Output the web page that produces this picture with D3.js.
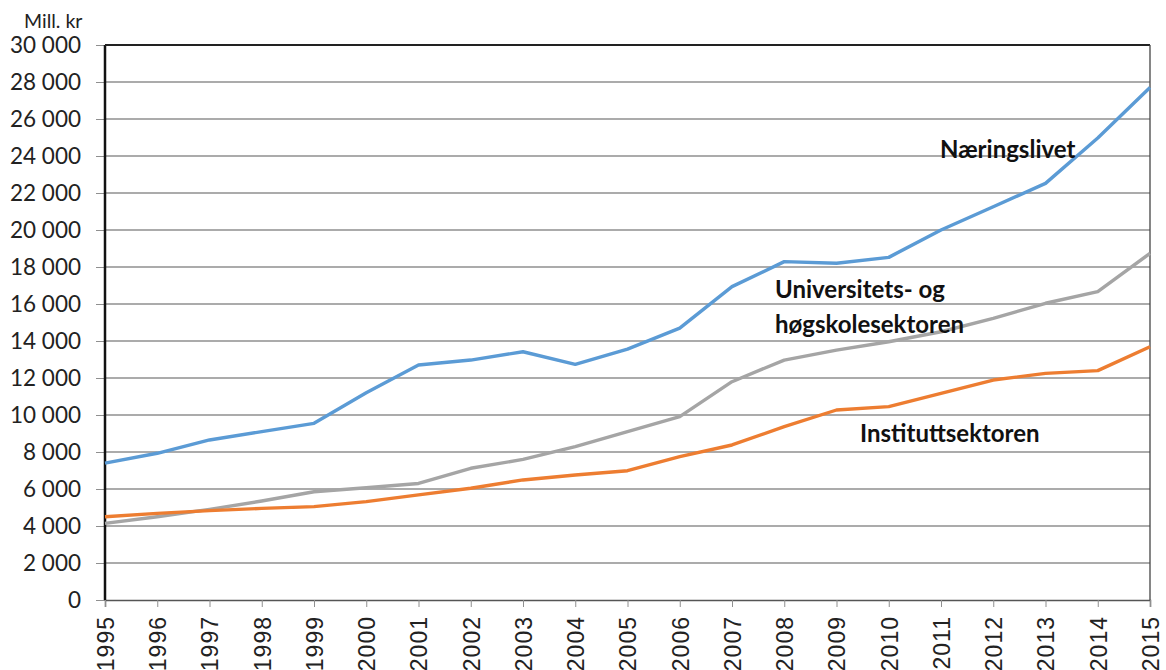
<!DOCTYPE html>
<html>
<head>
<meta charset="utf-8">
<script src="https://cdn.jsdelivr.net/npm/d3@7"></script>
<style>
  body { margin: 0; background: #fff; }
  svg { display: block; }
</style>
</head>
<body>
<svg></svg>
<script>
const width = 1166,
    height = 670;

// data (mill. kr)
const years = [1995, 1996, 1997, 1998, 1999, 2000, 2001, 2002, 2003, 2004, 2005,
    2006, 2007, 2008, 2009, 2010, 2011, 2012, 2013, 2014, 2015];
const naeringslivet = [7400, 7930, 8650, 9100, 9550, 11200, 12700, 12970, 13420, 12740, 13560,
    14700, 16940, 18290, 18200, 18520, 20000, 21260, 22520, 24970, 27700];
const universitet = [4140, 4500, 4900, 5350, 5850, 6070, 6300, 7120, 7600, 8290, 9100,
    9910, 11800, 12970, 13510, 13960, 14500, 15220, 16040, 16670, 18740];
const institutt = [4500, 4680, 4830, 4950, 5050, 5320, 5680, 6040, 6490, 6760, 6990,
    7750, 8380, 9370, 10270, 10450, 11170, 11890, 12250, 12400, 13690];
const yTicks = [0, 2000, 4000, 6000, 8000, 10000, 12000, 14000, 16000, 18000, 20000,
    22000, 24000, 26000, 28000, 30000];

const series = [
    {name: "Næringslivet", values: naeringslivet, color: "#5b9bd5"},
    {name: "Universitets- og høgskolesektoren", values: universitet, color: "#a5a5a5"},
    {name: "Instituttsektoren", values: institutt, color: "#ed7d31"}
];

const margin = {top: 45, left: 105, right: 16, bottom: 70};

const svg = d3.select("svg").attr("width", width).attr("height", height);

const x = d3.scaleLinear()
    .domain([1995, 2015])
    .range([margin.left, width - margin.right]);

const y = d3.scaleLinear()
    .domain([0, 30000])
    .range([height - margin.bottom, margin.top]);

const fmt = d3.formatLocale({decimal: ",", thousands: " ", grouping: [3], currency: ["", " kr"]}).format(",d");

// gridlines
svg.append("g")
    .selectAll("line")
    .data(yTicks.filter(d => d > 0 && d < 30000))
    .enter().append("line")
    .attr("x1", x(1995)).attr("x2", x(2015))
    .attr("y1", d => y(d)).attr("y2", d => y(d))
    .attr("stroke", "#8f8f8f")
    .attr("stroke-width", 1.3);

// y axis
const yAxis = d3.axisLeft(y).tickValues(yTicks).tickFormat(fmt).tickSize(9).tickPadding(15);
const gy = svg.append("g")
    .attr("transform", `translate(${x(1995)},0)`)
    .call(yAxis);
gy.select(".domain").remove();
gy.selectAll(".tick line").attr("stroke", "#8f8f8f");
gy.selectAll(".tick text")
    .attr("font-family", "Lato, 'Open Sans', sans-serif")
    .attr("font-size", 22.5)
    .attr("fill", "#222");

// x axis
const xAxis = d3.axisBottom(x).tickValues(years).tickFormat(d => d).tickSize(7).tickPadding(0);
const gx = svg.append("g")
    .attr("transform", `translate(0,${y(0)})`)
    .call(xAxis);
gx.select(".domain").attr("stroke", "#555").attr("stroke-width", 1.5);
gx.selectAll(".tick line").attr("stroke", "#8f8f8f");
gx.selectAll(".tick text")
    .attr("font-family", "'Liberation Sans', Arial, sans-serif")
    .attr("font-size", 23)
    .attr("letter-spacing", 1)
    .attr("fill", "#222")
    .attr("transform", "rotate(-90)")
    .attr("text-anchor", "end")
    .attr("x", -16)
    .attr("y", 0)
    .attr("dy", "0.36em");

// plot frame
svg.append("line")
    .attr("x1", x(1995)).attr("x2", x(1995))
    .attr("y1", y(30000)).attr("y2", y(0))
    .attr("stroke", "#111").attr("stroke-width", 2.5);
svg.append("line")
    .attr("x1", x(1995)).attr("x2", x(2015))
    .attr("y1", y(30000)).attr("y2", y(30000))
    .attr("stroke", "#222").attr("stroke-width", 2);
svg.append("line")
    .attr("x1", x(2015)).attr("x2", x(2015))
    .attr("y1", y(30000)).attr("y2", y(0))
    .attr("stroke", "#444").attr("stroke-width", 1.3);

// lines
const line = d3.line()
    .x((d, i) => x(years[i]))
    .y(d => y(d));

svg.append("g")
    .selectAll("path")
    .data(series)
    .enter().append("path")
    .attr("d", d => line(d.values))
    .attr("fill", "none")
    .attr("stroke", d => d.color)
    .attr("stroke-width", 3.4)
    .attr("stroke-linejoin", "round");

// unit label
svg.append("text")
    .attr("x", 24).attr("y", 28)
    .attr("font-family", "Lato, 'Open Sans', sans-serif")
    .attr("font-size", 19.5)
    .attr("fill", "#222")
    .text("Mill. kr");

// series labels
const labels = [
    {lines: ["Næringslivet"], x: 940, y: 158},
    {lines: ["Universitets- og"], x: 775, y: 298},
    {lines: ["høgskolesektoren"], x: 775, y: 333},
    {lines: ["Instituttsektoren"], x: 860, y: 442}
];
labels.forEach(l => {
    svg.append("text")
        .attr("x", l.x).attr("y", l.y)
        .attr("font-family", "Lato, 'Open Sans', sans-serif")
        .attr("font-size", 24)
        .attr("font-weight", "bold")
        .attr("fill", "#111")
        .text(l.lines[0]);
});
</script>
</body>
</html>
